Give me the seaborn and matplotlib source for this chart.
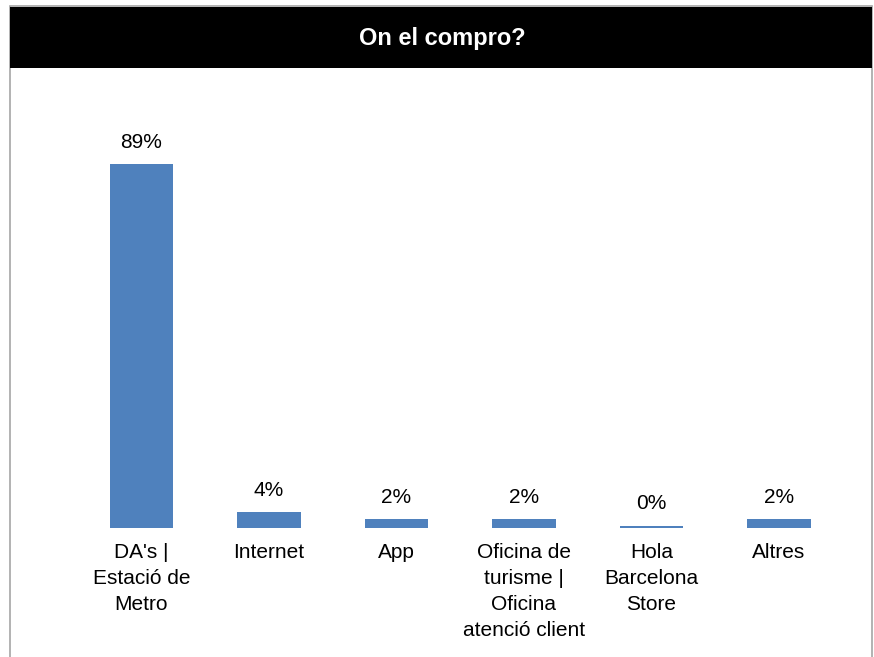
import matplotlib
matplotlib.use("Agg")
import matplotlib.pyplot as plt
import seaborn as sns
import pandas as pd
from matplotlib.patches import Rectangle

categories = ["DA's |\nEstació de\nMetro", "Internet", "App",
              "Oficina de\nturisme |\nOficina\natenció client",
              "Hola\nBarcelona\nStore", "Altres"]
values = [88.9, 3.9, 2.2, 2.1, 0.5, 2.2]
labels = ["89%", "4%", "2%", "2%", "0%", "2%"]
title = "On el compro?"

sns.set_style("white")
plt.rcParams['font.family'] = ['Liberation Sans', 'DejaVu Sans']
plt.rcParams['text.color'] = 'black'
plt.rcParams['xtick.color'] = 'black'

W, H = 874, 657
fig = plt.figure(figsize=(W / 100, H / 100), dpi=100)

# frame and title band
fig.patches.append(Rectangle((10 / W, -0.1), 862 / W, (H - 6) / H + 0.1,
                             transform=fig.transFigure, facecolor='none',
                             edgecolor='#A6A6A6', linewidth=1.2, zorder=-2))
fig.patches.append(Rectangle((10 / W, (H - 68) / H), 862 / W, 61 / H,
                             transform=fig.transFigure, facecolor='black',
                             edgecolor='none', zorder=-1))
fig.text(442 / W, (H - 38) / H, title, color='white', fontsize=17,
         fontweight='bold', ha='center', va='center', zorder=2)

left = 77.75 / W
width = 765 / W
bottom = 129 / H
height = 409 / H
ax = fig.add_axes([left, bottom, width, height])
ax.patch.set_alpha(0)

df = pd.DataFrame({"cat": categories, "val": values})
sns.barplot(data=df, x="cat", y="val", color="#4F81BD", width=0.5,
            saturation=1, linewidth=0, ax=ax)
ax.set_xlim(-0.5, 5.5)
ax.set_ylim(0, 100)
for c in ax.containers:
    ax.bar_label(c, labels=labels, padding=9, fontsize=15, color='black')
for s in ax.spines.values():
    s.set_visible(False)
ax.set_yticks([])
ax.set_xlabel("")
ax.set_ylabel("")
ax.tick_params(axis='x', length=0, pad=11, labelsize=15, labelcolor='black')
for t in ax.get_xticklabels():
    t.set_linespacing(1.45)

fig.savefig("out.png", dpi=100)
